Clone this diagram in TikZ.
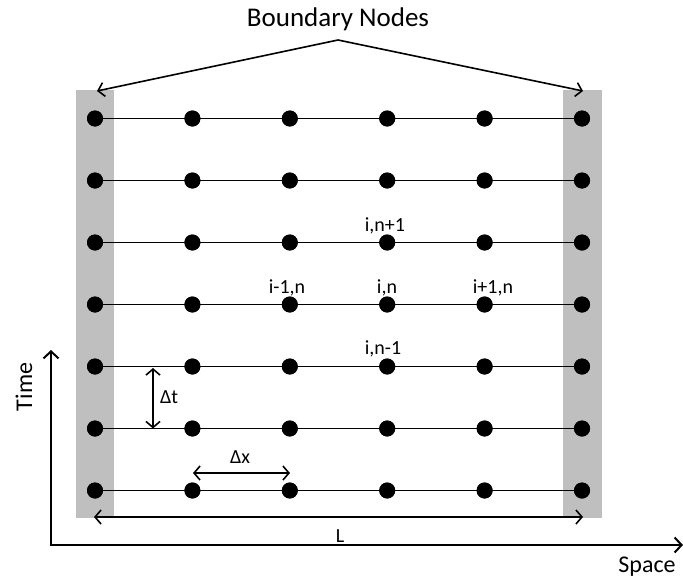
\documentclass[tikz,border=0pt]{standalone}
\usepackage{fontspec}
\setmainfont{Carlito}
\usetikzlibrary{arrows.meta}
\begin{document}
\begin{tikzpicture}[x=1pt,y=-1pt,
  dot/.style={circle,fill=black,inner sep=0pt,minimum size=16pt},
  gridline/.style={line width=1.6pt},
  barb/.style={line width=1.6pt,{Straight Barb[length=6pt,width=14pt]}-{Straight Barb[length=6pt,width=14pt]}},
  onebarb/.style={line width=1.6pt,-{Straight Barb[length=6pt,width=14pt]}},
  axis/.style={line width=2pt,-{Straight Barb[length=7pt,width=15pt]}},
  boundary/.style={fill=black!25,draw=none},
  lbl/.style={font=\fontsize{20}{22}\selectfont,inner sep=0pt},
  axlbl/.style={font=\fontsize{24}{26}\selectfont,inner sep=0pt}]
\useasboundingbox (0,0) rectangle (683,581);

% shaded boundary columns
\fill[boundary] (76,90) rectangle (114,518);
\fill[boundary] (563,90) rectangle (602,518);

% grid lines and nodes
\foreach \r [count=\j from 0] in {118.5,180.5,242.5,304.5,366.5,428.5,490.5} {
  \foreach \c [count=\i from 0] in {95,192.4,289.8,387.2,484.6,582} {
    \node[dot] (d-\i-\j) at (\c,\r) {};
  }
  \draw[gridline] (d-0-\j.center) -- (d-5-\j.center);
  \foreach \i in {0,...,5} { \node[dot] at (d-\i-\j) {}; }
}

% stencil labels
\node[lbl] (lup) at (385,226) {i,n+1};
\node[lbl] (lleft) at (287,288) {i-1,n};
\node[lbl] (lmid) at (387,288) {i,n};
\node[lbl] (lright) at (493,288) {i+1,n};
\node[lbl] (ldown) at (383,349) {i,n-1};

% spacing markers
\coordinate (dtA) at (153,368);
\coordinate (dtB) at (153,428.5);
\draw[barb] (dtA) -- (dtB);
\node[lbl,anchor=west] (dt) at (160,397) {Δt};
\coordinate (dxA) at (193,473);
\coordinate (dxB) at (290,473);
\draw[barb] (dxA) -- (dxB);
\node[lbl] (dx) at (240,457) {Δx};

% domain length
\coordinate (LA) at (94,517);
\coordinate (LB) at (583,517);
\draw[barb] (LA) -- (LB);
\node[lbl] (L) at (340,536) {L};

% boundary annotation
\node[font=\fontsize{27}{30}\selectfont,inner sep=0pt] (bn) at (338,19) {Boundary Nodes};
\coordinate (apex) at (338,40);
\coordinate (tipL) at (97,91);
\coordinate (tipR) at (583,91);
\draw[onebarb] (apex) -- (tipL);
\draw[onebarb] (apex) -- (tipR);

% axes
\coordinate (origin) at (51,545);
\coordinate (tEnd) at (51,350);
\coordinate (sEnd) at (683,545);
\draw[axis] (origin) -- (tEnd);
\draw[axis,line cap=rect] (origin) -- (sEnd);
\node[axlbl,rotate=90] (time) at (24,387) {Time};
\node[axlbl] (space) at (647,567) {Space};
\end{tikzpicture}
\end{document}
